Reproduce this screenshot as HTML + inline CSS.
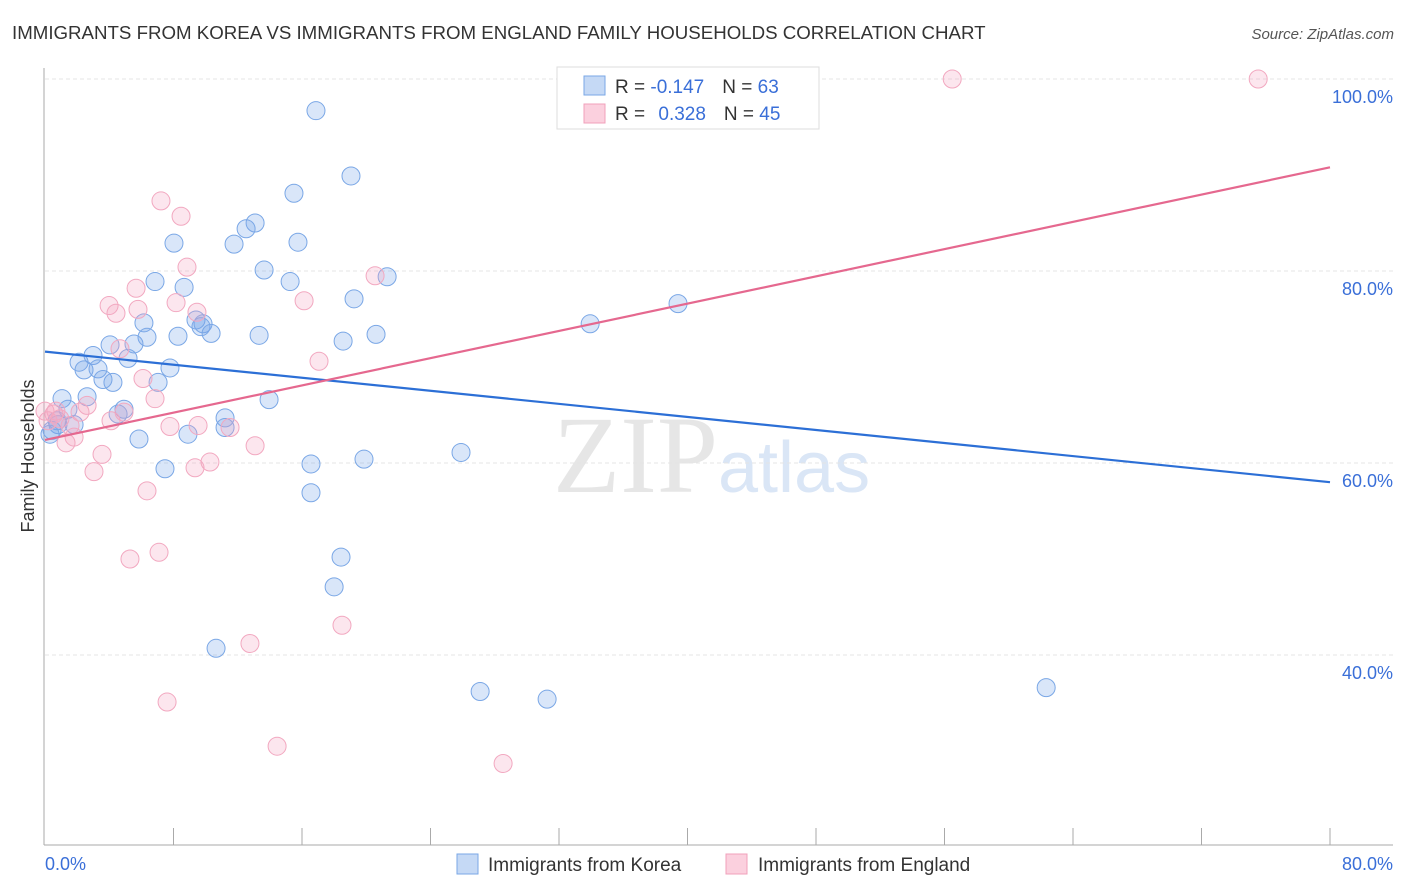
<!DOCTYPE html>
<html><head><meta charset="utf-8"><style>
body{margin:0;background:#fff;font-family:"Liberation Sans",sans-serif;}
svg{display:block}
</style></head><body>
<svg id="chart" width="1406" height="892" xmlns="http://www.w3.org/2000/svg">
<text x="12" y="39" font-size="18.7" fill="#333">IMMIGRANTS FROM KOREA VS IMMIGRANTS FROM ENGLAND FAMILY HOUSEHOLDS CORRELATION CHART</text>
<text x="1394" y="39" font-size="15" fill="#555" font-style="italic" text-anchor="end">Source: ZipAtlas.com</text>
<g>
<text x="553" y="492" font-size="110" font-family="Liberation Serif,serif" fill="#e6e6e6">ZIP</text>
<text x="718" y="492" font-size="72" fill="#dae6f6">atlas</text>
</g>
<g id="grid"></g>
<g id="axes"></g>
<g id="pts"></g>
<g id="trend"></g>
<text transform="translate(34,456) rotate(-90)" font-size="18" fill="#333" text-anchor="middle">Family Households</text>
<g>
<rect x="557" y="67" width="262" height="62" fill="#fff" stroke="#ddd"/>
<rect x="584" y="76" width="21" height="19" fill="#c5d9f5" stroke="#7aa7e6"/>
<rect x="584" y="104" width="21" height="19" fill="#fbd0de" stroke="#f0a0bb"/>
<text x="615" y="93" font-size="19" fill="#333">R = <tspan fill="#3a6fd8">-0.147</tspan><tspan dx="18">N = </tspan><tspan fill="#3a6fd8">63</tspan></text>
<text x="615" y="120" font-size="19" fill="#333">R = <tspan fill="#3a6fd8" dx="8">0.328</tspan><tspan dx="18">N = </tspan><tspan fill="#3a6fd8">45</tspan></text>
</g>
<g>
<rect x="457" y="854" width="21" height="20" fill="#c5d9f5" stroke="#7aa7e6"/>
<text x="488" y="871" font-size="19" fill="#333">Immigrants from Korea</text>
<rect x="726" y="854" width="21" height="20" fill="#fbd0de" stroke="#f0a0bb"/>
<text x="758" y="871" font-size="19" fill="#333">Immigrants from England</text>
</g>
</svg>
<script>
const koreaX=[16.87,19.05,15.50,13.08,12.52,8.03,11.77,15.75,13.64,6.85,15.26,8.66,19.24,21.30,6.16,9.40,9.84,9.71,8.28,6.35,10.34,13.33,18.56,20.61,5.54,4.05,2.99,5.17,2.12,2.43,3.30,7.78,4.23,3.61,7.04,13.95,1.06,2.62,4.92,4.55,1.43,11.21,11.21,0.75,0.81,1.81,0.44,5.85,8.90,25.90,19.86,16.56,7.47,16.56,18.43,18.00,10.65,27.09,31.26,33.94,39.41,62.33,0.31];
const koreaY=[96.7,89.9,88.1,85.0,84.4,82.9,82.8,83.0,80.1,78.9,78.9,78.3,77.1,79.4,74.6,74.9,74.5,74.2,73.2,73.1,73.5,73.3,72.7,73.4,72.4,72.3,71.2,70.9,70.5,69.7,69.8,69.9,68.4,68.7,68.4,66.6,66.7,66.9,65.6,65.1,65.6,64.7,63.7,64.4,64.0,64.0,63.4,62.5,63.0,61.1,60.4,59.9,59.4,56.9,50.2,47.1,40.7,36.2,35.4,74.5,76.6,36.6,63.0];
const englandX=[7.22,8.47,8.84,16.13,20.55,5.67,3.99,5.79,4.42,8.16,9.46,4.67,17.06,6.10,6.85,2.62,2.18,0.68,4.11,4.92,9.53,7.78,11.52,1.81,1.31,3.55,10.27,9.34,3.05,13.08,6.35,5.29,7.10,12.76,18.49,7.60,14.45,28.52,56.48,75.53,0.56,0.19,0.93,1.56,0.0];
const englandY=[87.3,85.7,80.4,76.9,79.5,78.2,76.4,76.0,75.6,76.7,75.7,71.9,70.6,68.8,66.7,66.0,65.3,65.4,64.4,65.3,63.9,63.8,63.7,62.7,62.1,60.9,60.1,59.5,59.1,61.8,57.1,50.0,50.7,41.2,43.1,35.1,30.5,28.7,100.0,100.0,65.1,64.4,64.6,63.9,65.4];
const koreaTrend=[71.6,58.0];
const englandTrend=[62.4,90.8];
const yTicks=[40,60,80,100];
const xTickLabels=["0.0%","80.0%"];
const NS="http://www.w3.org/2000/svg";
const X0=45,X1=1330,Y100=79,PX=(1330-45)/80,PY=(463-79)/40;
function sx(v){return X0+v*PX;}
function sy(v){return Y100+(100-v)*PY;}
function mk(tag,attrs,parent){const e=document.createElementNS(NS,tag);for(const k in attrs)e.setAttribute(k,attrs[k]);parent.appendChild(e);return e;}
const grid=document.getElementById('grid'),axes=document.getElementById('axes'),pts=document.getElementById('pts'),trend=document.getElementById('trend');
yTicks.forEach(t=>{
 const l=mk('line',{x1:45,x2:1393,y1:sy(t),y2:sy(t),stroke:'#e4e4e4','stroke-dasharray':'4,3'},grid);
 
 
 const tx=mk('text',{x:1393,y:sy(t)+24,'font-size':18,fill:'#3a6fd8','text-anchor':'end'},grid);
 tx.textContent=t.toFixed(1)+'%';
 
 
});
let a=mk('line',{x1:44,x2:44,y1:68,y2:845,stroke:'#aaa'},axes);


a=mk('line',{x1:44,x2:1393,y1:845,y2:845,stroke:'#aaa'},axes);


for(let i=1;i<=10;i++){
 const t=mk('line',{x1:sx(i*8),x2:sx(i*8),y1:828,y2:845,stroke:'#aaa'},axes);
 
 
}
let xl=mk('text',{x:45,y:870,'font-size':18,fill:'#3a6fd8'},axes);
xl.textContent=xTickLabels[0];


xl=mk('text',{x:1393,y:870,'font-size':18,fill:'#3a6fd8','text-anchor':'end'},axes);
xl.textContent=xTickLabels[1];


koreaX.forEach((v,i)=>{
 const c=mk('circle',{cx:sx(v),cy:sy(koreaY[i]),r:9,fill:'rgba(120,165,232,0.28)',stroke:'#7aa7e6','stroke-width':1},pts);
 
 
});
englandX.forEach((v,i)=>{
 const c=mk('circle',{cx:sx(v),cy:sy(englandY[i]),r:9,fill:'rgba(245,165,195,0.28)',stroke:'#f2a8c0','stroke-width':1},pts);
 
 
});
let tl=mk('line',{x1:sx(0),y1:sy(koreaTrend[0]),x2:sx(80),y2:sy(koreaTrend[1]),stroke:'#2c6fd6','stroke-width':2.2},trend);


tl=mk('line',{x1:sx(0),y1:sy(englandTrend[0]),x2:sx(80),y2:sy(englandTrend[1]),stroke:'#e5688f','stroke-width':2.2},trend);


</script>
</body></html>
